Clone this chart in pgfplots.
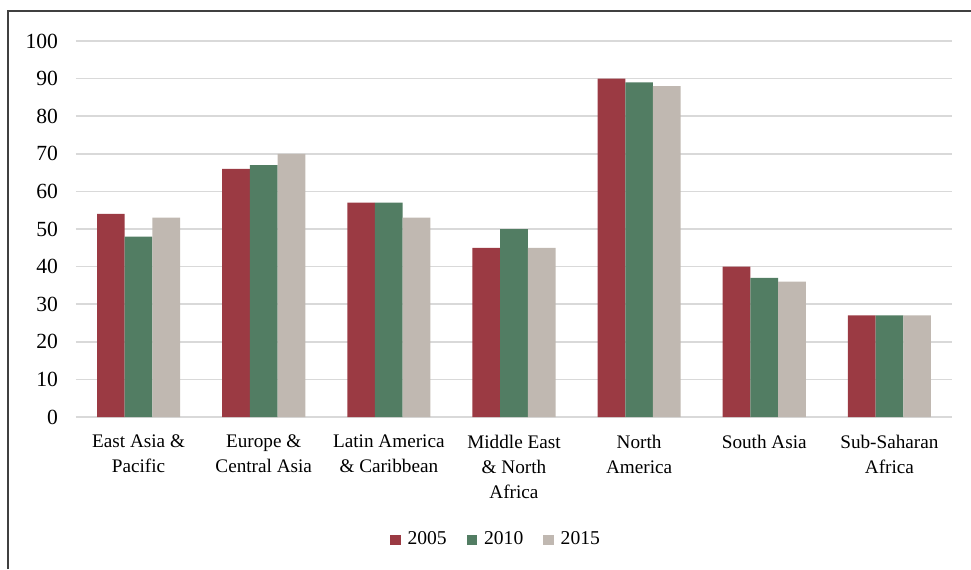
\documentclass[border=0pt]{standalone}
\usepackage{fontspec}
\setmainfont{Liberation Serif}
\usepackage{pgfplots}
\pgfplotsset{compat=1.18}
\usetikzlibrary{calc}
\definecolor{cred}{HTML}{9B3A43}
\definecolor{cgreen}{HTML}{527D63}
\definecolor{cgrey}{HTML}{C0B8B1}
\definecolor{gridc}{HTML}{D9D9D9}
\begin{document}
\begin{tikzpicture}
\begin{axis}[
	name=a,
	scale only axis,
	width=438pt, height=188pt,
	ybar=0pt, bar width=13.85pt,
	ymin=0, ymax=100, ytick={0,10,...,100},
	xmin=-0.5, xmax=6.5,
	xtick={0,...,6},
	xticklabels={{East Asia \&\\Pacific},{Europe \&\\Central Asia},{Latin America\\\& Caribbean},{Middle East\\\& North\\Africa},{North\\America},{South Asia},{Sub-Saharan\\Africa}},
	xticklabel style={align=center, font=\fontsize{9.6}{12.5}\selectfont, yshift=-5.5pt},
	yticklabel style={font=\fontsize{10.8}{12}\selectfont, xshift=-5.5pt},
	/pgf/number format/assume math mode=true,
	axis x line*=bottom, axis y line*=left,
	y axis line style={draw=none},
	x axis line style={gridc, line width=0.8pt},
	ymajorgrids, grid style={gridc, line width=0.8pt},
	major tick length=0pt,
	legend style={at={(0.4806,-0.327)}, anchor=center, draw=none, fill=none,
		font=\fontsize{9.8}{12}\selectfont, legend columns=-1,
		/tikz/every even column/.append style={column sep=8pt}},
	legend image code/.code={\fill[#1] (0pt,-2.6pt) rectangle (5.2pt,2.6pt);},
]
\addplot[fill=cred, draw=none] coordinates {(0,54) (1,66) (2,57) (3,45) (4,90) (5,40) (6,27)};
\addplot[fill=cgreen, draw=none] coordinates {(0,48) (1,67) (2,57) (3,50) (4,89) (5,37) (6,27)};
\addplot[fill=cgrey, draw=none] coordinates {(0,53) (1,70) (2,53) (3,45) (4,88) (5,36) (6,27)};
\legend{\hspace{1.5pt}2005,\hspace{1.5pt}2010,\hspace{1.5pt}2015}
\end{axis}
\draw[line width=0.6pt, black!75] ($(a.south west)+(-34pt,-76pt)$) -- ($(a.south west)+(-34pt,203pt)$) -- ($(a.south west)+(447.5pt,203pt)$);
\pgfresetboundingbox
\path[use as bounding box] ($(a.south west)+(-38pt,-76pt)$) rectangle ($(a.south west)+(447.5pt,208.5pt)$);
\end{tikzpicture}
\end{document}
